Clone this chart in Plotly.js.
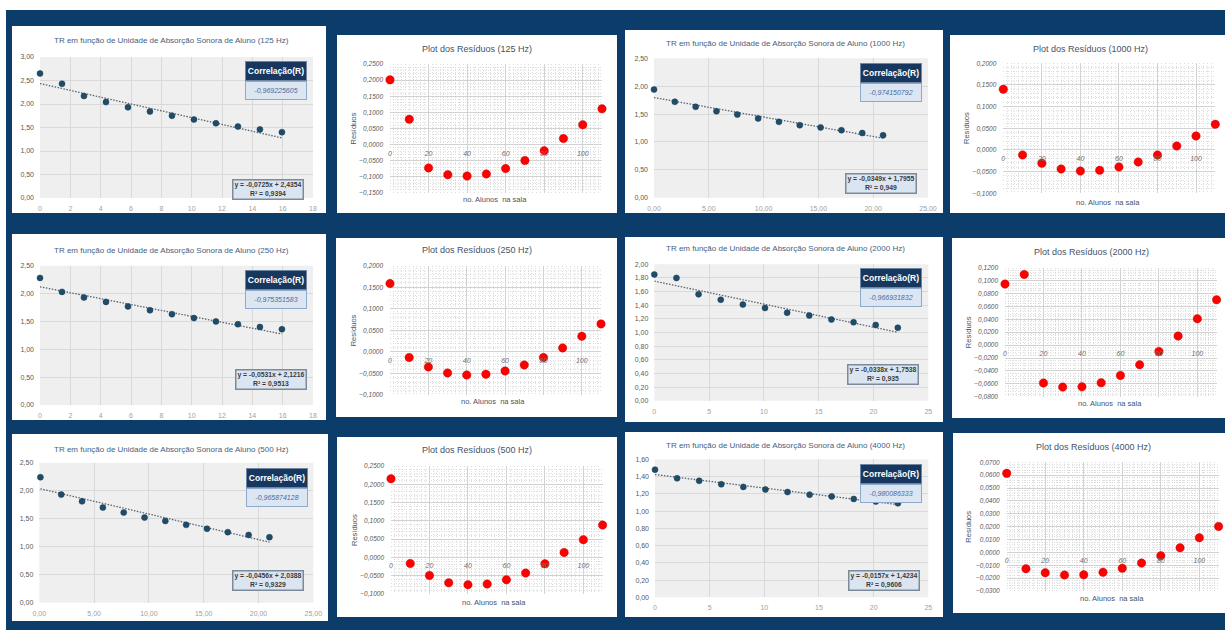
<!DOCTYPE html>
<html><head><meta charset="utf-8">
<script src="https://cdn.plot.ly/plotly-3.0.1.min.js"></script>
<style>html,body{margin:0;padding:0;background:#fff}#chart{width:1225px;height:630px}</style>
</head><body><div id="chart"></div>
<script>
// ---------------- DATA ----------------
const freqLabels = ['125 Hz', '250 Hz', '500 Hz', '1000 Hz', '2000 Hz', '4000 Hz'];

const trX_125 = [0, 1.45, 2.9, 4.35, 5.8, 7.25, 8.7, 10.15, 11.6, 13.05, 14.5, 15.95];
const trY_125 = [2.65, 2.43, 2.17, 2.04, 1.93, 1.84, 1.75, 1.67, 1.59, 1.52, 1.46, 1.40];
const trX_250 = [0, 1.45, 2.9, 4.35, 5.8, 7.25, 8.7, 10.15, 11.6, 13.05, 14.5, 15.95];
const trY_250 = [2.28, 2.03, 1.93, 1.85, 1.77, 1.70, 1.63, 1.56, 1.50, 1.45, 1.40, 1.36];
const trX_500 = [0.1, 2.0, 3.9, 5.8, 7.7, 9.6, 11.5, 13.4, 15.3, 17.2, 19.1, 21.0];
const trY_500 = [2.24, 1.93, 1.81, 1.70, 1.61, 1.52, 1.46, 1.39, 1.32, 1.26, 1.21, 1.17];
const trX_1000 = [0, 1.9, 3.8, 5.7, 7.6, 9.5, 11.4, 13.3, 15.2, 17.1, 19.0, 20.9];
const trY_1000 = [1.94, 1.72, 1.63, 1.55, 1.49, 1.42, 1.36, 1.30, 1.26, 1.21, 1.16, 1.12];
const trX_2000 = [0, 2.02, 4.04, 6.06, 8.08, 10.1, 12.12, 14.14, 16.16, 18.18, 20.2, 22.22];
const trY_2000 = [1.85, 1.80, 1.56, 1.48, 1.41, 1.36, 1.29, 1.25, 1.19, 1.15, 1.11, 1.07];
const trX_4000 = [0, 2.02, 4.04, 6.06, 8.08, 10.1, 12.12, 14.14, 16.16, 18.18, 20.2, 22.22];
const trY_4000 = [1.48, 1.38, 1.35, 1.31, 1.28, 1.25, 1.22, 1.19, 1.17, 1.14, 1.11, 1.09];

const trendSlopes = [-0.0725, -0.0531, -0.0456, -0.0349, -0.0338, -0.0157];
const trendIntercepts = [2.4354, 2.1216, 2.0388, 1.7955, 1.7538, 1.4234];
const eqLabels = ['y = -0,0725x + 2,4354', 'y = -0,0531x + 2,1216', 'y = -0,0456x + 2,0388',
                  'y = -0,0349x + 1,7955', 'y = -0,0338x + 1,7538', 'y = -0,0157x + 1,4234'];
const r2Labels = ['0,9394', '0,9513', '0,9329', '0,949', '0,935', '0,9606'];
const corrLabels = ['-0,969225605', '-0,975351583', '-0,965874128', '-0,974150792', '-0,966931832', '-0,980086333'];

const resX = [0, 10, 20, 30, 40, 50, 60, 70, 80, 90, 100, 110];
const res_125 = [0.2008, 0.0785, -0.0722, -0.0931, -0.0973, -0.0910, -0.0743, -0.0492, -0.0188, 0.0188, 0.0617, 0.1109];
const res_250 = [0.1585, -0.0131, -0.0348, -0.0487, -0.0534, -0.0518, -0.0441, -0.0302, -0.0131, 0.0093, 0.0363, 0.0650];
const res_500 = [0.2151, -0.0164, -0.0492, -0.0693, -0.0747, -0.0729, -0.0611, -0.0428, -0.0173, 0.0137, 0.0483, 0.0884];
const res_1000 = [0.1400, -0.0115, -0.0308, -0.0438, -0.0485, -0.0469, -0.0392, -0.0277, -0.0115, 0.0092, 0.0323, 0.0592];
const res_2000 = [0.0946, 0.1096, -0.0589, -0.0651, -0.0646, -0.0584, -0.0470, -0.0305, -0.0098, 0.0140, 0.0408, 0.0703];
const res_4000 = [0.0614, -0.0127, -0.0158, -0.0176, -0.0174, -0.0155, -0.0124, -0.0083, -0.0026, 0.0036, 0.0114, 0.0202];

const trTitlePrefix = 'TR em função de Unidade de Absorção Sonora de Aluno';
const resTitlePrefix = 'Plot dos Resíduos';
const corrHeader = 'Correlação(R)';
const resXTitle = 'no. Alunos\u00a0 na sala';
const resYTitle = 'Resíduos';

const trXs = [trX_125, trX_250, trX_500, trX_1000, trX_2000, trX_4000];
const trYs = [trY_125, trY_250, trY_500, trY_1000, trY_2000, trY_4000];
const resYs = [res_125, res_250, res_500, res_1000, res_2000, res_4000];

// ---------------- LAYOUT GEOMETRY (pixels) ----------------
const W = 1225, H = 630;
const fx = p => p / W, fy = p => 1 - p / H;
const FONT = 'Liberation Sans, Arial, sans-serif';

const geo = [
  { tr: { panel: [12, 26, 326, 213], plot: [40, 57, 313, 198], xr: [0, 18], xd: 2, xf: 'd', yr: [0, 3], yd: 0.5, title: [171.7, 40.7], corr: [276, 61], eq: [267.5, 189] },
    res: { panel: [337, 35, 617, 213], plot: [390, 64, 602, 193], yr: [-0.15, 0.25], yd: 0.05, title: [477, 49], yt: 353, xt: [495, 199] } },
  { tr: { panel: [12, 234, 326, 420], plot: [40, 265.7, 313, 405], xr: [0, 18], xd: 2, xf: 'd', yr: [0, 2.5], yd: 0.5, title: [171.7, 251], corr: [276, 270], eq: [271, 379] },
    res: { panel: [336, 238, 617, 417], plot: [390, 265.7, 601, 395], yr: [-0.1, 0.2], yd: 0.05, title: [476.7, 250], yt: 353, xt: [493, 401.7] } },
  { tr: { panel: [12, 434, 328, 621], plot: [39.3, 462.7, 313.3, 602.7], xr: [0, 25], xd: 5, xf: '.2f', yr: [0, 2.5], yd: 0.5, title: [171.7, 449], corr: [277, 468], eq: [267.5, 580] },
    res: { panel: [337, 437, 617, 617], plot: [391, 466, 602.6, 594], yr: [-0.1, 0.25], yd: 0.05, title: [476.7, 450], yt: 354, xt: [494.3, 602.7] } },
  { tr: { panel: [625, 30, 943, 213], plot: [654, 58.3, 928, 197.7], xr: [0, 25], xd: 5, xf: '.2f', yr: [0, 2.5], yd: 0.5, title: [785, 44], corr: [891, 63], eq: [881, 183.5] },
    res: { panel: [950, 35, 1225, 213], plot: [1003.3, 63.3, 1215.3, 193.3], yr: [-0.1, 0.2], yd: 0.05, title: [1090, 49.3], yt: 966.7, xt: [1108, 202.7] } },
  { tr: { panel: [625, 237, 943, 422], plot: [654.3, 264.3, 928.3, 400.7], xr: [0, 25], xd: 5, xf: 'd', yr: [0, 2], yd: 0.2, title: [785, 249], corr: [891, 268], eq: [882.5, 374.7] },
    res: { panel: [952, 238, 1225, 418], plot: [1005, 267.7, 1216.6, 396.7], yr: [-0.08, 0.12], yd: 0.02, title: [1091.7, 252.3], yt: 968, xt: [1110, 403.3] } },
  { tr: { panel: [625, 432, 943, 617], plot: [655, 459.3, 928.3, 597.3], xr: [0, 25], xd: 5, xf: 'd', yr: [0, 1.6], yd: 0.2, title: [785, 445], corr: [891, 463.5], eq: [884, 580] },
    res: { panel: [953, 433, 1225, 613], plot: [1006.7, 462.3, 1218.6, 591], yr: [-0.03, 0.07], yd: 0.01, title: [1093, 446.7], yt: 969, xt: [1111.7, 598.3] } }
];

const traces = [];
const layout = {
  width: W, height: H,
  margin: { l: 0, r: 0, t: 0, b: 0 },
  paper_bgcolor: '#ffffff',
  plot_bgcolor: 'rgba(0,0,0,0)',
  separators: ', ',
  showlegend: false,
  font: { family: FONT },
  shapes: [
    { type: 'rect', xref: 'paper', yref: 'paper', x0: fx(6), x1: 1, y0: 0, y1: fy(10), fillcolor: '#0c3c69', line: { width: 0 }, layer: 'below' }
  ],
  annotations: []
};

function ann(x, y, text, opts) {
  return Object.assign({ xref: 'paper', yref: 'paper', x: fx(x), y: fy(y), text: text, showarrow: false,
    xanchor: 'center', yanchor: 'middle' }, opts);
}

geo.forEach((g, k) => {
  const nT = 2 * k + 1, nR = 2 * k + 2;
  const t = g.tr, r = g.res;

  // panel backgrounds
  [t.panel, r.panel].forEach(p => layout.shapes.push({ type: 'rect', xref: 'paper', yref: 'paper',
    x0: fx(p[0]), x1: fx(p[2]), y0: fy(p[3]), y1: fy(p[1]), fillcolor: '#ffffff', line: { width: 0 }, layer: 'below' }));
  layout.shapes.push({ type: 'rect', xref: 'paper', yref: 'paper',
    x0: fx(t.plot[0]), x1: fx(t.plot[2]), y0: fy(t.plot[3]), y1: fy(t.plot[1]), fillcolor: '#efefef', line: { width: 0 }, layer: 'below' });

  // ---- TR scatter panel ----
  layout['xaxis' + nT] = {
    domain: [fx(t.plot[0]), fx(t.plot[2])], range: t.xr, dtick: t.xd, tick0: 0, tickformat: t.xf,
    anchor: 'y' + nT, showgrid: true, gridcolor: '#d9d9d9', gridwidth: 1, zeroline: false, showline: false,
    ticks: '', ticklabelstandoff: 5, tickfont: { size: 7, color: '#a0a0a0', family: FONT }, fixedrange: true
  };
  layout['yaxis' + nT] = {
    domain: [fy(t.plot[3]), fy(t.plot[1])], range: t.yr, dtick: t.yd, tick0: 0, tickformat: '.2f',
    anchor: 'x' + nT, showgrid: true, gridcolor: '#d9d9d9', gridwidth: 1, zeroline: false, showline: false,
    ticks: '', ticklabelstandoff: 5, tickfont: { size: 7, color: '#595959', family: FONT }, fixedrange: true
  };
  const xs = trXs[k], ys = trYs[k];
  const xMin = xs[0], xMax = xs[xs.length - 1];
  traces.push({ type: 'scatter', mode: 'lines', x: [xMin, xMax],
    y: [trendSlopes[k] * xMin + trendIntercepts[k], trendSlopes[k] * xMax + trendIntercepts[k]],
    xaxis: 'x' + nT, yaxis: 'y' + nT, line: { color: '#56636f', width: 1.3, dash: '1.5px,1.5px' }, hoverinfo: 'skip' });
  traces.push({ type: 'scatter', mode: 'markers', x: xs, y: ys, xaxis: 'x' + nT, yaxis: 'y' + nT,
    marker: { color: '#1f4d69', size: 6, line: { color: '#173a52', width: 0.5 } }, cliponaxis: false });

  layout.annotations.push(ann(t.title[0], t.title[1], trTitlePrefix + ' (' + freqLabels[k] + ')',
    { font: { size: 8, color: '#46607e', family: FONT } }));
  // correlation box
  layout.annotations.push(ann(t.corr[0], t.corr[1] + 10, '<b>' + corrHeader + '</b>',
    { width: 60, height: 18, bgcolor: '#17375e', bordercolor: '#6f86a3', borderwidth: 1, borderpad: 0,
      font: { size: 8.5, color: '#ffffff', family: FONT } }));
  layout.annotations.push(ann(t.corr[0], t.corr[1] + 29.5, '<i>' + corrLabels[k] + '</i>',
    { width: 60, height: 17, bgcolor: '#dce6f2', bordercolor: '#8eaacb', borderwidth: 1, borderpad: 0,
      font: { size: 7, color: '#4a6a99', family: FONT } }));
  // equation box
  layout.annotations.push(ann(t.eq[0], t.eq[1], '<b>' + eqLabels[k] + '</b><br><b>R² = ' + r2Labels[k] + '</b>',
    { width: 69, height: 18, bgcolor: '#dbe5f1', bordercolor: '#7d8a99', borderwidth: 1.5, borderpad: 0,
      font: { size: 6.8, color: '#3b3b3b', family: FONT } }));

  // ---- residual panel ----
  const yDom = [fy(r.plot[3]), fy(r.plot[1])];
  const zeroPos = yDom[0] + (0 - r.yr[0]) / (r.yr[1] - r.yr[0]) * (yDom[1] - yDom[0]);
  layout['xaxis' + nR] = {
    domain: [fx(r.plot[0]), fx(r.plot[2])], range: [0, 110], dtick: 20, tick0: 0,
    anchor: 'free', position: zeroPos, showgrid: true, gridcolor: '#d2d2d2', gridwidth: 1,
    zeroline: false, showline: false, ticks: '', ticklabelstandoff: 3,
    tickfont: { size: 7, color: '#707070', family: FONT, style: 'italic' },
    minor: { dtick: 2, showgrid: true, gridcolor: '#d6d6d6', griddash: '1px,1.5px', gridwidth: 0.8 },
    fixedrange: true
  };
  layout['yaxis' + nR] = {
    domain: yDom, range: r.yr, dtick: r.yd, tick0: 0, tickformat: '.4f',
    anchor: 'x' + nR, showgrid: true, gridcolor: '#d2d2d2', gridwidth: 1,
    zeroline: false, showline: false, ticks: '', ticklabelstandoff: 6,
    tickfont: { size: 6.5, color: '#595959', family: FONT, style: 'italic' },
    minor: { dtick: r.yd / 5, showgrid: true, gridcolor: '#d6d6d6', griddash: '1px,1.5px', gridwidth: 0.8 },
    fixedrange: true
  };
  traces.push({ type: 'scatter', mode: 'markers', x: resX, y: resYs[k], xaxis: 'x' + nR, yaxis: 'y' + nR,
    marker: { color: '#ff0000', size: 8.5, line: { color: 'rgba(170,0,0,0.6)', width: 0.6 } }, cliponaxis: false });

  layout.annotations.push(ann(r.title[0], r.title[1], resTitlePrefix + ' (' + freqLabels[k] + ')',
    { font: { size: 9, color: '#44546a', family: FONT } }));
  layout.annotations.push(ann(r.yt, (r.plot[1] + r.plot[3]) / 2, resYTitle,
    { textangle: -90, font: { size: 7.5, color: '#44546a', family: FONT } }));
  layout.annotations.push(ann(r.xt[0], r.xt[1], resXTitle,
    { font: { size: 7.5, color: '#44546a', family: FONT } }));
});

Plotly.newPlot('chart', traces, layout, { staticPlot: true, displayModeBar: false });
</script></body></html>
